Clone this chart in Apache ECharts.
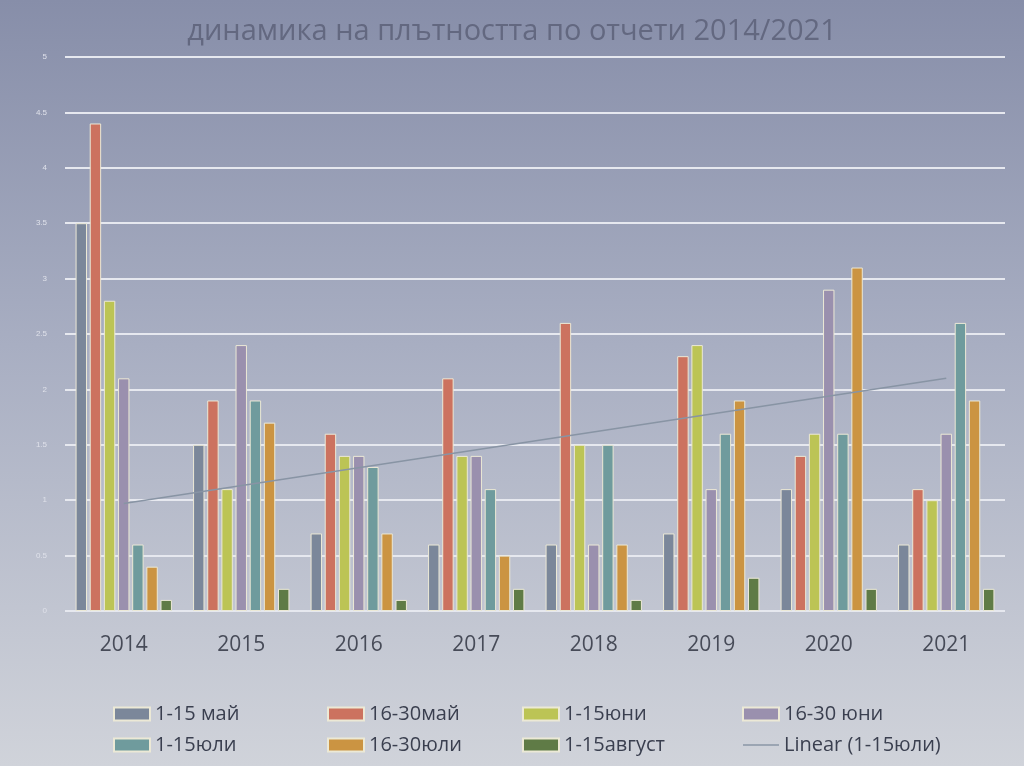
<!DOCTYPE html>
<html><head><meta charset="utf-8">
<script src="https://cdn.jsdelivr.net/npm/echarts@6/dist/echarts.min.js"></script>
<style>html,body{margin:0;padding:0;}#c{width:1024px;height:766px;}</style>
</head><body><div id="c"></div>
<script>
const years = ['2014','2015','2016','2017','2018','2019','2020','2021'];
const seriesNames = ['1-15 май','16-30май','1-15юни','16-30 юни','1-15юли','16-30юли','1-15август'];
const may1 =   [3.5, 1.5, 0.7, 0.6, 0.6, 0.7, 1.1, 0.6];
const may2 =   [4.4, 1.9, 1.6, 2.1, 2.6, 2.3, 1.4, 1.1];
const jun1 =   [2.8, 1.1, 1.4, 1.4, 1.5, 2.4, 1.6, 1.0];
const jun2 =   [2.1, 2.4, 1.4, 1.4, 0.6, 1.1, 2.9, 1.6];
const jul1 =   [0.6, 1.9, 1.3, 1.1, 1.5, 1.6, 1.6, 2.6];
const jul2 =   [0.4, 1.7, 0.7, 0.5, 0.6, 1.9, 3.1, 1.9];
const aug1 =   [0.1, 0.2, 0.1, 0.2, 0.1, 0.3, 0.2, 0.2];
const trendName = 'Linear (1-15юли)';
const trendYears = ['2014','2021'];
const trendValues = [0.97, 2.1];
const yTicks = ['0','0.5','1','1.5','2','2.5','3','3.5','4','4.5','5'];

const values = [may1, may2, jun1, jun2, jul1, jul2, aug1];
const colors = ['#7b879a','#cc725f','#bcc455','#9a90ae','#6f9b9d','#cb9442','#5f7b46'];

const chart = echarts.init(document.getElementById('c'));
const series = seriesNames.map((n,i)=>({
  name:n, type:'bar', data: values[i],
  barGap:'24%', barCategoryGap:'18%',
  itemStyle:{color:colors[i], borderColor:'#ece9d6', borderWidth:1}
}));
series.push({
  name: trendName, type:'line', symbol:'none',
  data: trendYears.map((y,i)=>[y, trendValues[i]]),
  lineStyle:{color:'#8894a4', width:1.5}, itemStyle:{color:'#8894a4'}, z:5
});
const legendText = {color:'#3a3f4f', fontSize:20, fontFamily:'Open Sans, sans-serif'};
const cols = [
  {left:108, data:['1-15 май','1-15юли']},
  {left:322, data:['16-30май','16-30юли']},
  {left:517, data:['1-15юни','1-15август']},
  {left:737, data:['16-30 юни', {name:trendName, icon:'path://M0,0H40V1.6H0Z', itemStyle:{color:'#8a96a6'}}]}
];
chart.setOption({
  backgroundColor: new echarts.graphic.LinearGradient(0,0,0,1,[
    {offset:0,color:'#878ea9'},{offset:0.45,color:'#a8aec2'},{offset:1,color:'#d0d3da'}]),
  title:{text:'динамика на плътността по отчети 2014/2021', left:'center', top:12,
    textStyle:{color:'#636880', fontSize:29, fontWeight:'normal', fontFamily:'Open Sans, sans-serif'}},
  grid:{left:65, right:19, top:57, bottom:155},
  legend: cols.map(c=>({left:c.left, top:699, orient:'vertical', itemGap:11, icon:'rect',
    itemWidth:36, itemHeight:13, data:c.data, textStyle:legendText})),
  xAxis:{type:'category', data:years,
    axisLine:{show:false}, axisTick:{show:false},
    axisLabel:{color:'#474b58', fontSize:21, margin:24, fontFamily:'Open Sans, sans-serif'}},
  yAxis:{type:'value', min:0, max:5, interval:0.5,
    axisLabel:{color:'#dfe1ea', fontSize:8, margin:18, formatter:(v)=>yTicks[Math.round(v*2)]},
    splitLine:{lineStyle:{color:'#e6e8ef', width:2}}},
  series: series
});
</script></body></html>
